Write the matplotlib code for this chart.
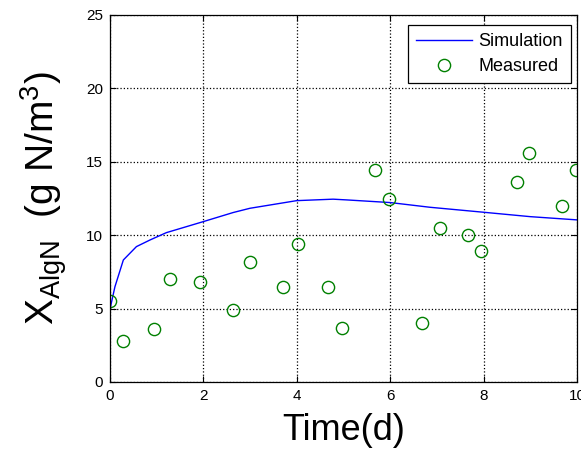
import matplotlib
matplotlib.use("Agg")
import matplotlib.pyplot as plt

plt.rcParams['font.family'] = ['Liberation Sans', 'DejaVu Sans']
plt.rcParams['mathtext.default'] = 'regular'

sim_t = [0.0, 0.02, 0.11, 0.29, 0.57, 0.86, 1.21, 2.0, 2.64, 3.0, 4.0, 4.78, 5.07, 6.0, 6.85, 8.0, 9.0, 10.0]
sim_x = [4.6, 5.2, 6.49, 8.31, 9.22, 9.67, 10.17, 10.92, 11.54, 11.83, 12.35, 12.45, 12.40, 12.22, 11.90, 11.56, 11.26, 11.04]

meas_t = [0.0, 0.29, 0.94, 1.28, 1.94, 2.64, 3.00, 3.70, 4.03, 4.67, 4.96, 5.67, 5.97, 6.68,
          7.07, 7.67, 7.94, 8.72, 8.98, 9.67, 9.97]
meas_x = [5.54, 2.81, 3.59, 7.04, 6.83, 4.90, 8.15, 6.49, 9.38, 6.49, 3.66, 14.44, 12.44, 4.04,
          10.47, 10.01, 8.90, 13.64, 15.62, 11.99, 14.44]

xticks = [0, 2, 4, 6, 8, 10]
yticks = [0, 5, 10, 15, 20, 25]

fig = plt.figure(figsize=(5.81, 4.51), dpi=100)
ax = fig.add_axes([0.189, 0.153, 0.804, 0.814])

ax.plot(sim_t, sim_x, color=(0, 0, 1), lw=1.0, label='Simulation')
ax.plot(meas_t, meas_x, linestyle='none', marker='o', markersize=8.8, markerfacecolor='none',
        markeredgecolor=(0, 0.5, 0), markeredgewidth=1.0, label='Measured')

ax.set_xlim(0, 10)
ax.set_ylim(0, 25)
ax.set_xticks(xticks)
ax.set_yticks(yticks)
ax.tick_params(direction='in', top=True, right=True, labelsize=11, length=4, width=0.8, pad=5)
ax.grid(True, linestyle=':', color='black', linewidth=0.9)
for s in ax.spines.values():
    s.set_linewidth(0.9)

ax.set_xlabel('Time(d)', fontsize=26, labelpad=7)
ax.set_ylabel(r'X$_{AlgN}$  (g N/m$^3$)', fontsize=28, labelpad=12)

leg = ax.legend(loc='upper right', bbox_to_anchor=(0.987, 0.973), borderaxespad=0,
                fontsize=13, fancybox=False, edgecolor='black',
                framealpha=1, handlelength=3.1, borderpad=0.45,
                labelspacing=0.45, handletextpad=0.35)
leg.get_frame().set_linewidth(0.9)

fig.savefig('out.png', dpi=100)
